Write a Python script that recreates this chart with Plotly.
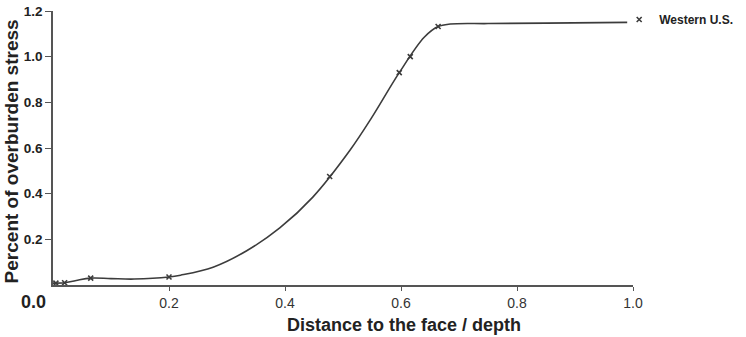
import plotly.graph_objects as go

# Curve
curve_x = [0.0, 0.02, 0.04, 0.065, 0.1, 0.14, 0.2, 0.22, 0.276, 0.334, 0.391, 0.448,
           0.512, 0.55, 0.597, 0.64, 0.664, 0.685, 0.75, 0.85, 0.99]
curve_y = [0.008, 0.01, 0.02, 0.03, 0.028, 0.026, 0.035, 0.043, 0.078, 0.15, 0.25, 0.385,
           0.59, 0.735, 0.93, 1.085, 1.132, 1.143, 1.145, 1.147, 1.15]

# Data markers
marker_x = [0.005, 0.02, 0.065, 0.2, 0.477, 0.597, 0.616, 0.664]
marker_y = [0.008, 0.01, 0.03, 0.035, 0.475, 0.93, 1.0, 1.132]

x_ticks = [0.2, 0.4, 0.6, 0.8, 1.0]
x_tick_text = ["0.2", "0.4", "0.6", "0.8", "1.0"]
y_ticks = [0.2, 0.4, 0.6, 0.8, 1.0, 1.2]
y_tick_text = ["0.2", "0.4", "0.6", "0.8", "1.0", "1.2"]

series_name = "Western U.S."
line_col = "#3c3c3c"

fig = go.Figure()
fig.add_trace(go.Scatter(x=curve_x, y=curve_y, mode="lines",
                         line=dict(color=line_col, width=1.6, shape="spline", smoothing=1.0),
                         showlegend=False, hoverinfo="skip"))
fig.add_trace(go.Scatter(x=marker_x, y=marker_y, mode="markers",
                         marker=dict(symbol="x-thin", size=5, color=line_col,
                                     line=dict(width=1.6, color=line_col)),
                         showlegend=False))
fig.add_trace(go.Scatter(x=[None], y=[None], mode="markers", name="<b>%s</b>" % series_name,
                         marker=dict(symbol="x-thin", size=5, color=line_col,
                                     line=dict(width=1.6, color=line_col))))

fig.update_layout(
    width=746, height=337,
    margin=dict(l=53, r=113, t=11, b=52, autoexpand=False),
    paper_bgcolor="white", plot_bgcolor="white",
    font=dict(family="Liberation Sans, Arial, sans-serif", color="#222"),
    legend=dict(xref="container", yref="container", x=0.83, y=0.985,
                xanchor="left", yanchor="top",
                font=dict(size=12, color="#222", family="Liberation Sans, Arial, sans-serif"),
                bgcolor="rgba(0,0,0,0)", borderwidth=0, itemwidth=30),
    xaxis=dict(range=[0, 1.0], showgrid=False, zeroline=False,
               showline=True, linecolor="#555", linewidth=1.5,
               ticks="outside", ticklen=4, tickcolor="#555", tickwidth=1.2,
               tickvals=x_ticks, ticktext=x_tick_text,
               tickfont=dict(size=14, color="#333")),
    yaxis=dict(range=[0, 1.2], showgrid=False, zeroline=False,
               showline=True, linecolor="#555", linewidth=1.5,
               ticks="outside", ticklen=6, tickcolor="#555", tickwidth=1.2,
               tickvals=y_ticks, ticktext=["<b>%s</b>" % t for t in y_tick_text],
               tickfont=dict(size=13.5, color="#222")),
    annotations=[
        dict(text="<b>Distance to the face / depth</b>", xref="paper", yref="paper",
             x=0.605, y=-0.146, xanchor="center", yanchor="middle", showarrow=False,
             font=dict(size=18, color="#222")),
        dict(text="<b>Percent of overburden stress</b>", xref="paper", yref="paper",
             x=-0.071, y=0.487, xanchor="center", yanchor="middle", showarrow=False,
             textangle=-90, font=dict(size=19, color="#222")),
        dict(text="<b>0.0</b>", xref="paper", yref="paper",
             x=-0.008, y=-0.02, xanchor="right", yanchor="top", showarrow=False,
             font=dict(size=18, color="#222")),
    ],
)

fig.write_html("out.html")
